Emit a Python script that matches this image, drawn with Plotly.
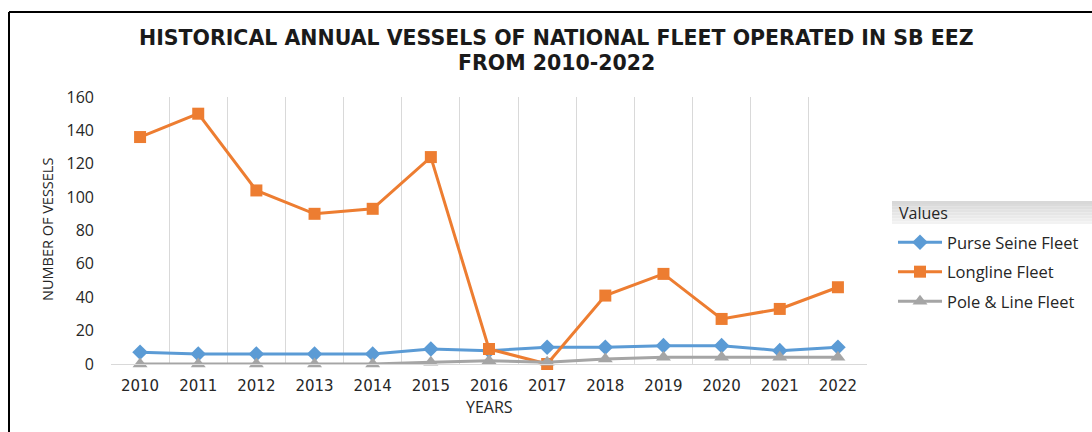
import plotly.graph_objects as go

years = ["2010", "2011", "2012", "2013", "2014", "2015", "2016",
         "2017", "2018", "2019", "2020", "2021", "2022"]
purse_seine = [7, 6, 6, 6, 6, 9, 8, 10, 10, 11, 11, 8, 10]
longline = [136, 150, 104, 90, 93, 124, 9, 0, 41, 54, 27, 33, 46]
pole_line = [0, 0, 0, 0, 0, 1, 2, 1, 3, 4, 4, 4, 4]

series_names = ["Purse Seine Fleet", "Longline Fleet", "Pole & Line Fleet"]
series_colors = ["#5B9BD5", "#ED7D31", "#A5A5A5"]
series_symbols = ["diamond", "square", "triangle-up"]
series_sizes = [12, 12, 13]

W, H = 1092, 432
L, R, T, B = 111, 225, 97, 68
PW, PH = W - L - R, H - T - B


def px2x(px):
    return (px - L) / PW


def py2y(py):
    return (H - B - py) / PH


fig = go.Figure()
for name, vals, col, sym, sz in zip(series_names, [purse_seine, longline, pole_line],
                                    series_colors, series_symbols, series_sizes):
    fig.add_trace(go.Scatter(
        x=years, y=vals, name=name, mode="lines+markers",
        line=dict(color=col, width=3),
        marker=dict(symbol=sym, size=sz, color=col),
        cliponaxis=False, legendgroup=name,
    ))

font_main = "Open Sans"

fig.update_layout(
    width=W, height=H,
    margin=dict(l=L, r=R, t=T, b=B, autoexpand=False),
    paper_bgcolor="white", plot_bgcolor="white",
    showlegend=True,
    legend=dict(
        x=px2x(893), y=py2y(225), xanchor="left", yanchor="top",
        font=dict(family=font_main, size=16.5, color="#262626"),
        traceorder="grouped", tracegroupgap=5,
        itemwidth=44, bgcolor="rgba(0,0,0,0)",
    ),
    xaxis=dict(
        type="category", tickson="boundaries", range=[-0.5, 12.5],
        showgrid=True, gridcolor="#d9d9d9", gridwidth=1,
        showline=True, linecolor="#d9d9d9", linewidth=1,
        ticks="", tickfont=dict(family="DejaVu Sans", size=15, color="#262626"),
        ticklabelstandoff=8, zeroline=False, automargin=False,
    ),
    yaxis=dict(
        range=[0, 160], dtick=20, showgrid=False, zeroline=False,
        showline=False, ticks="",
        tickfont=dict(family=font_main, size=16, color="#262626"),
        ticklabelstandoff=16, automargin=False,
    ),
)

# Titles
fig.add_annotation(text="<b>HISTORICAL ANNUAL VESSELS OF NATIONAL FLEET OPERATED IN SB EEZ</b>",
                   x=px2x(556), y=py2y(38), xref="paper", yref="paper",
                   showarrow=False, xanchor="center", yanchor="middle",
                   font=dict(family="DejaVu Sans", size=20.5, color="#1a1a1a"))
fig.add_annotation(text="<b>FROM 2010-2022</b>",
                   x=px2x(556), y=py2y(63), xref="paper", yref="paper",
                   showarrow=False, xanchor="center", yanchor="middle",
                   font=dict(family="DejaVu Sans", size=20.5, color="#1a1a1a"))
fig.add_annotation(text="NUMBER OF VESSELS", textangle=-90,
                   x=px2x(47), y=py2y(230), xref="paper", yref="paper",
                   showarrow=False, xanchor="center", yanchor="middle",
                   font=dict(family=font_main, size=14.5, color="#262626"))
fig.add_annotation(text="YEARS",
                   x=px2x(489), y=py2y(407), xref="paper", yref="paper",
                   showarrow=False, xanchor="center", yanchor="middle",
                   font=dict(family=font_main, size=16, color="#262626"))

# Legend header band with gradient
n_strips = 8
top, bot = 201, 224
for i in range(n_strips):
    y0p = top + (bot - top) * i / n_strips
    y1p = top + (bot - top) * (i + 1) / n_strips
    g = int(216 + (242 - 216) * i / (n_strips - 1))
    fig.add_shape(type="rect", xref="paper", yref="paper",
                  x0=px2x(892), x1=px2x(1092), y0=py2y(y1p), y1=py2y(y0p),
                  line=dict(width=0), fillcolor=f"rgb({g},{g},{g})", layer="below")
fig.add_annotation(text="Values", x=px2x(897), y=py2y(213), xref="paper", yref="paper",
                   showarrow=False, xanchor="left", yanchor="middle",
                   font=dict(family=font_main, size=16, color="#262626"))

# Outer border (left and top)
fig.add_shape(type="line", xref="paper", yref="paper",
              x0=px2x(9), x1=px2x(9), y0=py2y(440), y1=py2y(12),
              line=dict(color="black", width=2))
fig.add_shape(type="line", xref="paper", yref="paper",
              x0=px2x(9), x1=px2x(1100), y0=py2y(12), y1=py2y(12),
              line=dict(color="black", width=2))

fig.write_html("out.html")
